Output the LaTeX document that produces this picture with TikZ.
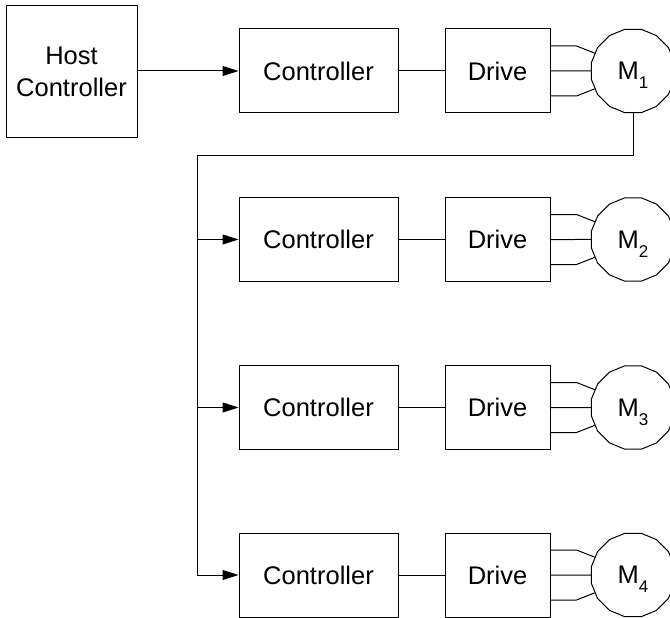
\documentclass[tikz,border=0pt]{standalone}
\usepackage{fontspec}
\setmainfont{Liberation Sans}
\usetikzlibrary{shapes.geometric,arrows.meta}
\tikzset{
  blk/.style={draw, line width=1pt, inner sep=0pt, minimum height=84pt,
    font=\fontsize{25.5}{32}\selectfont, align=center},
  ctrlbox/.style={blk, minimum width=159pt},
  drivebox/.style={blk, minimum width=105pt},
  hostbox/.style={blk, minimum width=131pt, minimum height=131pt},
  motor/.style={draw, line width=1pt, regular polygon, regular polygon sides=16,
    minimum size=85pt, inner sep=0pt, font=\fontsize{25.5}{32}\selectfont},
  wire/.style={line width=1pt},
  arr/.style={line width=1pt, -{Triangle[length=16pt,width=10pt]}}
}
\newcommand{\msub}[1]{M\smash{\raisebox{-9pt}{\fontsize{17}{17}\selectfont #1}}}
\begin{document}
\begin{tikzpicture}[x=1pt,y=-1pt]
\useasboundingbox (0,0) rectangle (670,618);
\node[hostbox] (host) at (71.5,71.5) {Host\\Controller};
\foreach \i/\y in {1/71,2/239.5,3/407.5,4/575}{
  \node[ctrlbox] (c\i) at (318.5,\y) {Controller};
  \node[drivebox] (d\i) at (497.5,\y) {Drive};
  \node[motor] (m\i) at (633,\y) {\msub{\i}};
  \draw[wire] (c\i.east) -- (d\i.east -| d\i.west);
  \draw[wire] (d\i.east) -- (m\i.west);
  \draw[wire] ([yshift=25pt]d\i.east) -- ++(26,0) -- (m\i.155);
  \draw[wire] ([yshift=-25pt]d\i.east) -- ++(26,0) -- (m\i.205);
}
\draw[arr] (host.east |- c1.west) -- (c1.west);
\coordinate (bustop) at (197,155);
\coordinate (b2) at (197,239.5);
\coordinate (b3) at (197,407.5);
\coordinate (b4) at (197,575);
\draw[wire] (m1.south) |- (bustop) -- (b4);
\draw[arr] (b2) -- (c2.west);
\draw[arr] (b3) -- (c3.west);
\draw[arr] (b4) -- (c4.west);
\end{tikzpicture}
\end{document}
